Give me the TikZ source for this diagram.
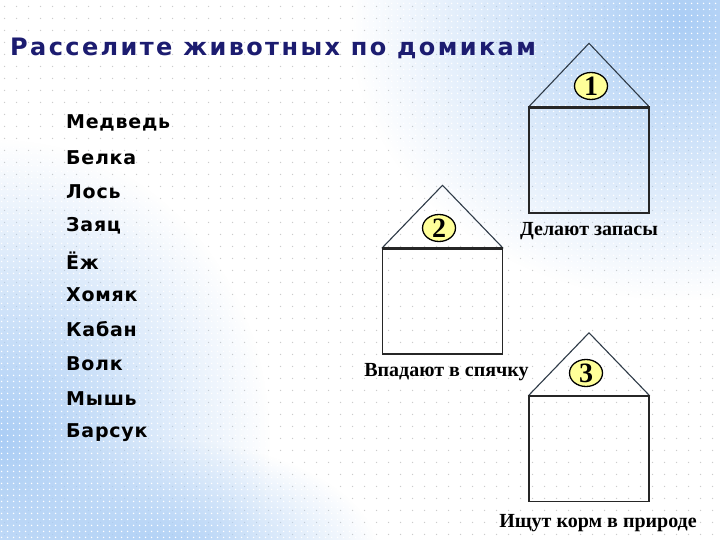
\documentclass[tikz,border=0pt]{standalone}
\usepackage{fontspec}
\setmainfont{Liberation Serif}
\newfontfamily\listfont{DejaVu Sans}[LetterSpace=4]
\newfontfamily\titlefont{DejaVu Sans}[LetterSpace=10]
\usepackage{tikz}
\usetikzlibrary{shapes.geometric,positioning,fadings,patterns}
\definecolor{bgblue}     {HTML}{AACDF5}
\definecolor{titleblue}  {HTML}{1C1C70}
\definecolor{numyellow}  {HTML}{FFFF99}
\definecolor{roofgray}   {HTML}{2F3B48}
\tikzfading[name=glow, inner color=transparent!0, outer color=transparent!100]
\pgfdeclarepatternformonly{sparsedots}{\pgfpointorigin}{\pgfpoint{6pt}{6pt}}%
  {\pgfpoint{6pt}{6pt}}{\pgfpathcircle{\pgfpoint{3pt}{3pt}}{0.9pt}\pgfusepath{fill}}
\pgfdeclarepatternformonly{greydots}{\pgfpointorigin}{\pgfpoint{12pt}{12pt}}%
  {\pgfpoint{12pt}{12pt}}{\pgfpathcircle{\pgfpoint{6pt}{6pt}}{0.8pt}\pgfusepath{fill}}

\begin{document}
\begin{tikzpicture}[
  x=1pt, y=-1pt,
  body/.style  ={draw=black!85,line width=1.4pt,minimum width=120pt,
                 minimum height=105pt,inner sep=0pt},
  roof/.style  ={draw=roofgray,line width=1.1pt},
  eave/.style  ={draw=black!85,line width=2pt},
  num/.style   ={ellipse,draw=black,line width=1.3pt,fill=numyellow,
                 minimum width=33pt,minimum height=27pt,inner sep=0pt,
                 font=\fontsize{28}{28}\selectfont\bfseries},
  lbl/.style   ={font=\fontsize{20}{20}\selectfont\bfseries,inner sep=0pt},
  animal/.style={anchor=west,inner sep=0pt,
                 font=\listfont\fontsize{19}{19}\selectfont\bfseries}
]
\useasboundingbox (0,0) rectangle (720,540);
%% background: white with blue glow in the corners
\begin{scope}
  \clip (0,0) rectangle (720,540);
  \fill[white] (0,0) rectangle (720,540);
  \fill[pattern=greydots,pattern color=black!20] (0,0) rectangle (720,540);
  \fill[bgblue,path fading=glow] (680,20) ellipse (330 and 280);
  \fill[bgblue,path fading=glow] (0,440) ellipse (270 and 300);
  \fill[bgblue,path fading=glow] (160,560) ellipse (220 and 120);
  \fill[pattern=sparsedots,pattern color=white] (0,0) rectangle (720,540);
\end{scope}

%% title
\node[anchor=west,inner sep=0pt,text=titleblue,
      font=\titlefont\fontsize{24}{24}\selectfont\bfseries]
  (title) at (10,48) {Расселите животных по домикам};

%% list of animals
\foreach \name [count=\i] in {Медведь,Белка,Лось,Заяц,Ёж,Хомяк,Кабан,Волк,Мышь,Барсук}
  \node[animal] (a\i) at (66,{123+34.4*(\i-1)}) {\name};

%% house 1
\node[body] (b1) at (589,160.5) {};
\coordinate[above=64pt of b1.north] (r1);
\draw[roof] (b1.north west) -- (r1) -- (b1.north east);
\draw[eave] (b1.north west) -- (b1.north east);
\node[num] (n1) at (591,86) {1};
\node[lbl,below=9pt of b1] (l1) {Делают запасы};

%% house 2
\node[body] (b2) at (442.5,301.5) {};
\coordinate[above=63pt of b2.north] (r2);
\draw[roof] (b2.north west) -- (r2) -- (b2.north east);
\draw[eave] (b2.north west) -- (b2.north east);
\node[num] (n2) at (439,228) {2};
\node[lbl,below=9pt of b2,xshift=4pt] (l2) {Впадают в спячку};

%% house 3
\node[body] (b3) at (589,449) {};
\coordinate[above=63pt of b3.north] (r3);
\draw[roof] (b3.north west) -- (r3) -- (b3.north east);
\draw[eave] (b3.north west) -- (b3.north east);
\node[num] (n3) at (586,373) {3};
\node[lbl,below=12pt of b3,xshift=9pt] (l3) {Ищут корм в природе};

\end{tikzpicture}
\end{document}
